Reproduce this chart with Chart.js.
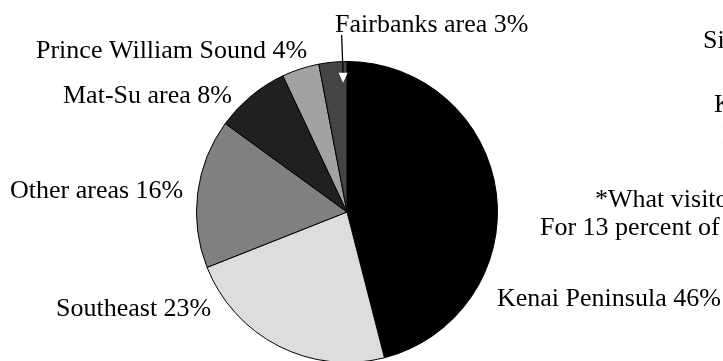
<!DOCTYPE html>
<html>
<head>
<meta charset="utf-8">
<script src="https://cdn.jsdelivr.net/npm/chart.js@4/dist/chart.umd.min.js"></script>
<style>
html,body{margin:0;padding:0;background:#fff;overflow:hidden;width:723px;height:361px}
#wrap{position:absolute;left:0;top:0;width:723px;height:363px}
</style>
</head>
<body>
<div id="wrap"><canvas id="pie"></canvas></div>
<script>
// share of visitors by main destination area
const regions = ["Kenai Peninsula", "Southeast", "Other areas", "Mat-Su area", "Prince William Sound", "Fairbanks area"]
const shares = [46, 23, 16, 8, 4, 3]
const sliceColors = ["#000000", "#dddddd", "#808080", "#202020", "#a2a2a2", "#444444"]

// where each slice label sits (left edge, baseline)
const labelPos = [[497, 306], [56, 316], [10, 198], [63, 103], [36, 58], [335, 32]]

// side note, runs off the right edge
const noteLines = [
  ["Single-destination visitors", 703, 48],
  ["Kenai and", 714, 112],
  ["Interior", 722, 143],
  ["*What visitors named as their main destination.", 595, 207],
  ["For 13 percent of visitors no one area was named.", 540, 235]
]

const FONT = "26px 'Liberation Serif'"

const labelPlugin = {
  id: "sliceLabels",
  afterDatasetsDraw(chart){
    let ctx = chart.ctx
    let arcs = chart.getDatasetMeta(0).data
    ctx.save()
    ctx.font = FONT
    ctx.fillStyle = "#000"
    ctx.textAlign = "left"
    ctx.textBaseline = "alphabetic"
    regions.forEach((r, i) => {
      ctx.fillText(r + " " + shares[i] + "%", labelPos[i][0], labelPos[i][1])
    })
    noteLines.forEach(n => ctx.fillText(n[0], n[1], n[2]))

    // pointer for the small Fairbanks slice
    let a = arcs[5]
    let ang = a.endAngle - 0.03
    let R = a.outerRadius * 0.86
    let tx = a.x + Math.cos(ang) * R
    let ty = a.y + Math.sin(ang) * R
    ctx.strokeStyle = "#000"
    ctx.lineWidth = 1.3
    ctx.beginPath()
    ctx.moveTo(tx - 1.5, 35)
    ctx.lineTo(tx, ty - 8)
    ctx.stroke()
    ctx.fillStyle = "#fff"
    ctx.beginPath()
    ctx.moveTo(tx - 4.5, ty - 10)
    ctx.lineTo(tx + 4.5, ty - 10)
    ctx.lineTo(tx, ty)
    ctx.closePath()
    ctx.fill()
    ctx.restore()
  }
}

new Chart(document.getElementById("pie"), {
  type: "pie",
  data: {
    labels: regions,
    datasets: [{
      data: shares,
      backgroundColor: sliceColors,
      borderColor: "#000",
      borderWidth: 1
    }]
  },
  options: {
    responsive: true,
    maintainAspectRatio: false,
    animation: false,
    layout: {padding: {left: 196, right: 225, top: 61, bottom: 0}},
    plugins: {legend: {display: false}, tooltip: {enabled: false}}
  },
  plugins: [labelPlugin]
})
</script>
</body>
</html>
